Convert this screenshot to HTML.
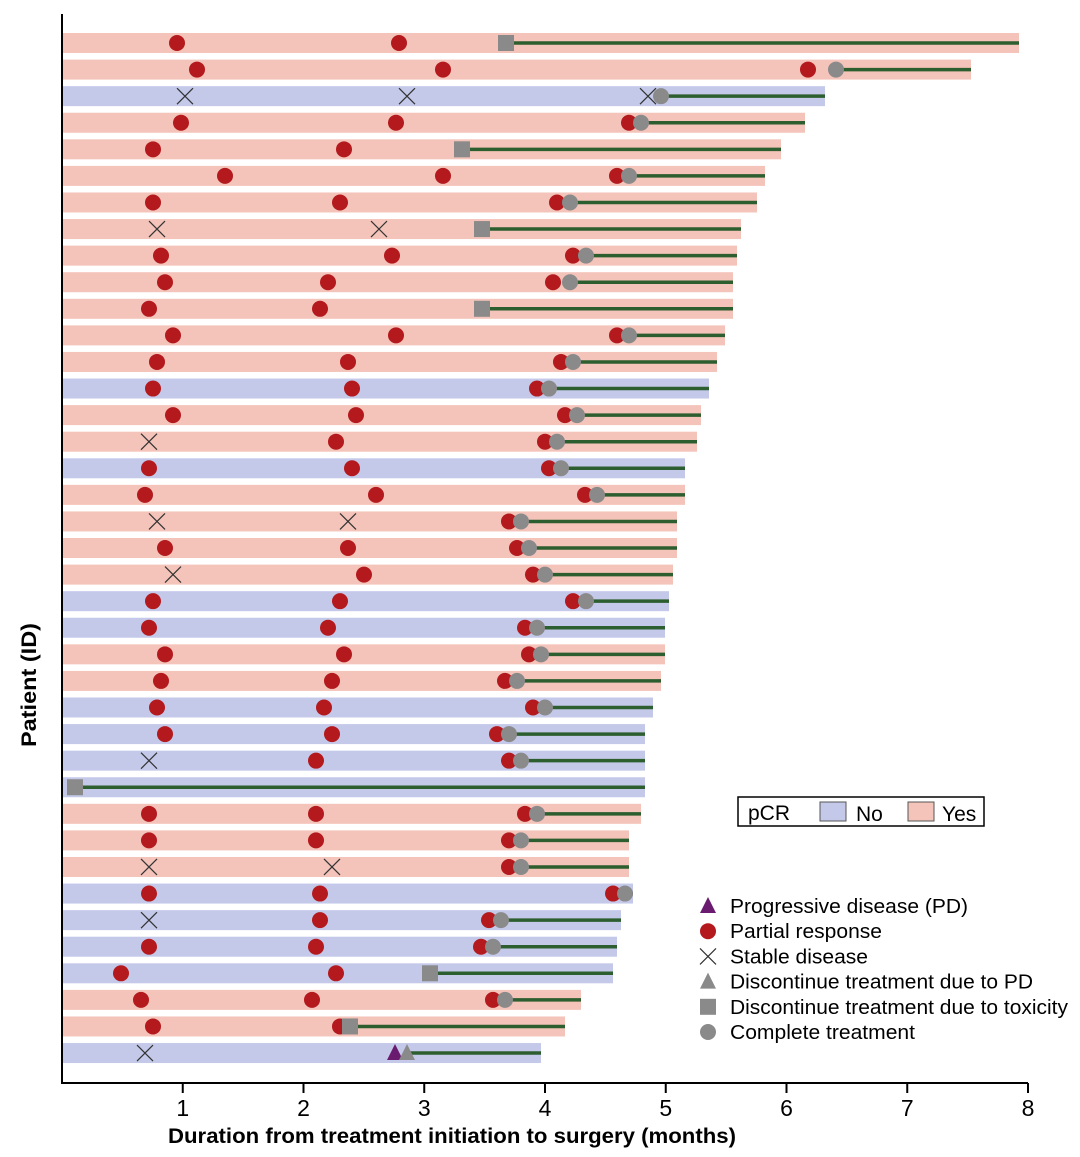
<!DOCTYPE html>
<html><head><meta charset="utf-8"><style>body{margin:0;background:#fff}svg{display:block}text{font-family:"Liberation Sans",sans-serif}</style></head>
<body>
<svg id="s" width="1080" height="1157" xmlns="http://www.w3.org/2000/svg"></svg>
<script>
const rows=[
['p',1019,[['r',177],['r',399],['s',506]]],
['p',971,[['r',197],['r',443],['r',808],['g',836]]],
['b',825,[['x',185],['x',407],['x',648],['g',661]]],
['p',805,[['r',181],['r',396],['r',629],['g',641]]],
['p',781,[['r',153],['r',344],['s',462]]],
['p',765,[['r',225],['r',443],['r',617],['g',629]]],
['p',757,[['r',153],['r',340],['r',557],['g',570]]],
['p',741,[['x',157],['x',379],['s',482]]],
['p',737,[['r',161],['r',392],['r',573],['g',586]]],
['p',733,[['r',165],['r',328],['r',553],['g',570]]],
['p',733,[['r',149],['r',320],['s',482]]],
['p',725,[['r',173],['r',396],['r',617],['g',629]]],
['p',717,[['r',157],['r',348],['r',561],['g',573]]],
['b',709,[['r',153],['r',352],['r',537],['g',549]]],
['p',701,[['r',173],['r',356],['r',565],['g',577]]],
['p',697,[['x',149],['r',336],['r',545],['g',557]]],
['b',685,[['r',149],['r',352],['r',549],['g',561]]],
['p',685,[['r',145],['r',376],['r',585],['g',597]]],
['p',677,[['x',157],['x',348],['r',509],['g',521]]],
['p',677,[['r',165],['r',348],['r',517],['g',529]]],
['p',673,[['x',173],['r',364],['r',533],['g',545]]],
['b',669,[['r',153],['r',340],['r',573],['g',586]]],
['b',665,[['r',149],['r',328],['r',525],['g',537]]],
['p',665,[['r',165],['r',344],['r',529],['g',541]]],
['p',661,[['r',161],['r',332],['r',505],['g',517]]],
['b',653,[['r',157],['r',324],['r',533],['g',545]]],
['b',645,[['r',165],['r',332],['r',497],['g',509]]],
['b',645,[['x',149],['r',316],['r',509],['g',521]]],
['b',645,[['s',75]]],
['p',641,[['r',149],['r',316],['r',525],['g',537]]],
['p',629,[['r',149],['r',316],['r',509],['g',521]]],
['p',629,[['x',149],['x',332],['r',509],['g',521]]],
['b',633,[['r',149],['r',320],['r',613],['g',625]]],
['b',621,[['x',149],['r',320],['r',489],['g',501]]],
['b',617,[['r',149],['r',316],['r',481],['g',493]]],
['b',613,[['r',121],['r',336],['s',430]]],
['p',581,[['r',141],['r',312],['r',493],['g',505]]],
['p',565,[['r',153],['r',340],['s',350]]],
['b',541,[['x',145],['t',395],['gt',407]]]
];
const P='#f4c3b9',B='#c4c9ea',R='#b3191d',G='#8a8a8a',GR='#2d5e2f';
let h='';
function mk(k,x,y){
 if(k=='r')return `<circle cx="${x}" cy="${y}" r="8" fill="${R}"/>`;
 if(k=='g')return `<circle cx="${x}" cy="${y}" r="8" fill="${G}"/>`;
 if(k=='s')return `<rect x="${x-8}" y="${y-8}" width="16" height="16" fill="${G}"/>`;
 if(k=='x')return `<path d="M${x-8} ${y-8}L${x+8} ${y+8}M${x+8} ${y-8}L${x-8} ${y+8}" stroke="#333" stroke-width="1.2"/>`;
 if(k=='t')return `<path d="M${x} ${y-9}L${x+8} ${y+7}L${x-8} ${y+7}Z" fill="#6a1b6f"/>`;
 if(k=='gt')return `<path d="M${x} ${y-9}L${x+8} ${y+7}L${x-8} ${y+7}Z" fill="${G}"/>`;
}
rows.forEach((r,i)=>{
 const y=43+i*26.58;
 h+=`<rect x="62" y="${y-10}" width="${r[1]-62}" height="20" fill="${r[0]=='p'?P:B}"/>`;
 const last=r[2][r[2].length-1];
 h+=`<line x1="${last[1]}" y1="${y}" x2="${r[1]}" y2="${y}" stroke="${GR}" stroke-width="3.5"/>`;
 r[2].forEach(m=>h+=mk(m[0],m[1],y));
});
h+=`<path d="M62 14V1083H1028" fill="none" stroke="#000" stroke-width="2"/>`;
for(let i=1;i<=8;i++){const x=62+i*120.75;h+=`<line x1="${x}" y1="1083" x2="${x}" y2="1093" stroke="#000" stroke-width="2"/><text x="${x}" y="1116" font-size="23" text-anchor="middle">${i}</text>`;}
h+=`<text x="168" y="1143" font-size="21" font-weight="bold" textLength="568" lengthAdjust="spacingAndGlyphs">Duration from treatment initiation to surgery (months)</text>`;
h+=`<text transform="translate(36,747) rotate(-90)" font-size="21" font-weight="bold" textLength="124" lengthAdjust="spacingAndGlyphs">Patient (ID)</text>`;
h+=`<rect x="738" y="797" width="246" height="29" fill="#fff" stroke="#000" stroke-width="1.5"/><text x="748" y="820" font-size="21">pCR</text><rect x="820" y="802" width="26" height="19" fill="${B}" stroke="#555"/><text x="856" y="821" font-size="21">No</text><rect x="908" y="802" width="26" height="19" fill="${P}" stroke="#555"/><text x="942" y="821" font-size="21">Yes</text>`;
const L=[['t','Progressive disease (PD)',238],['r','Partial response',152],['x','Stable disease',138],['gt','Discontinue treatment due to PD',303],['s','Discontinue treatment due to toxicity',338],['g','Complete treatment',185]];
L.forEach((l,i)=>{const y=906+i*25.2;h+=mk(l[0],708,y);h+=`<text x="730" y="${y+7}" font-size="20" textLength="${l[2]}" lengthAdjust="spacingAndGlyphs">${l[1]}</text>`;});
document.getElementById('s').innerHTML=h;
</script>
</body></html>
